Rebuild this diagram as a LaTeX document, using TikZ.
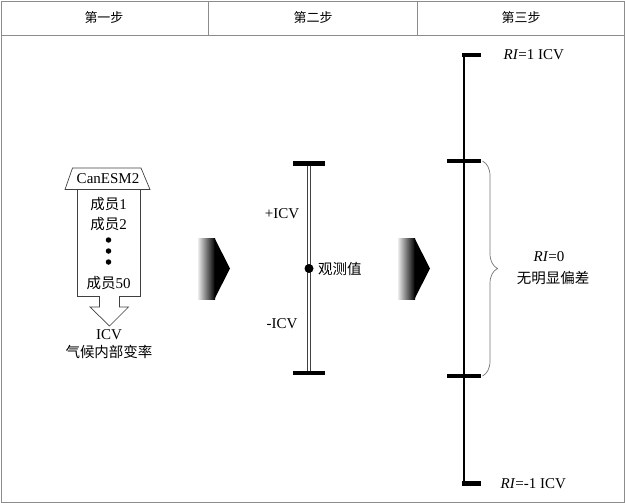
\documentclass[tikz,border=0pt]{standalone}
\usepackage{fontspec}
\setmainfont{Liberation Serif}
\newfontfamily\cjk{Noto Sans CJK SC}
\usetikzlibrary{decorations.pathreplacing}
\begin{document}
\begin{tikzpicture}[x=1pt,y=-1pt,
  frame/.style={draw=black!45, line width=0.8pt},
  lbl/.style={font=\fontsize{15}{17}\selectfont, inner sep=0pt, align=center},
  cjklbl/.style={lbl, font=\fontsize{14.5}{17}\selectfont\cjk},
  hdr/.style={font=\fontsize{13}{15}\selectfont\cjk, inner sep=0pt},
  bar/.style={line width=4.5pt},
  box/.style={draw=black!75, line width=0.7pt},
  dot/.style={fill=black, circle, inner sep=0pt, minimum size=5.5pt},
  chevshade/.style={left color=black!8, right color=black, shading angle=90},
]
\useasboundingbox (0,0) rectangle (625,503);
% frame
\draw[frame] (1,1) rectangle (624,502);
\draw[frame] (1,35) -- (624,35);
\draw[frame] (208,1) -- (208,35);
\draw[frame] (417,1) -- (417,35);
\node[hdr] (h1) at (104,17.5) {第一步};
\node[hdr] (h2) at (313,17.5) {第二步};
\node[hdr] (h3) at (521,17.5) {第三步};

% step 1
\draw[box] (65,189.5) -- (72.5,168) -- (141,168) -- (150,189.5) -- cycle;
\node[lbl] (cm) at (108,179) {CanESM2};
\draw[box] (77,189.5) rectangle (140,296);
\node[lbl] (m1) at (108.5,204) {{\cjk\fontsize{14.5}{17}\selectfont 成员}1};
\node[lbl] (m2) at (108.5,224) {{\cjk\fontsize{14.5}{17}\selectfont 成员}2};
\node[dot] (d1) at (108.5,240) {};
\node[dot] (d2) at (108.5,251) {};
\node[dot] (d3) at (108.5,262) {};
\node[lbl] (m50) at (108.5,283) {{\cjk\fontsize{14.5}{17}\selectfont 成员}50};
\draw[box, fill=white] (99.5,296) -- (99.5,307) -- (90,307) -- (109.5,326) -- (128.5,307) -- (119.5,307) -- (119.5,296);
\node[lbl] (icv) at (109,334.5) {ICV};
\node[cjklbl] (icvz) at (109,352) {气候内部变率};

% chevrons
\foreach \dx in {0,200}{
  \shade[chevshade] (198+\dx,238) rectangle (215+\dx,299);
  \fill[black] (214.5+\dx,238) -- (230+\dx,268.5) -- (214.5+\dx,299) -- cycle;
}

% step 2
\coordinate (s2t) at (309,163.5);
\coordinate (s2b) at (309,373);
\draw[draw=black!75, line width=0.8pt, double=white, double distance=2pt] (s2t) -- (s2b);
\draw[bar] (293,163.5) -- (325,163.5);
\draw[bar] (293,373) -- (325,373);
\node[dot, minimum size=9pt] (obs) at (309,268.5) {};
\node[cjklbl, anchor=west] (obsl) at (318,268.5) {观测值};
\node[lbl] (picv) at (282,213.5) {+ICV};
\node[lbl] (micv) at (282,323.5) {-ICV};

% step 3
\coordinate (s3t) at (464,55);
\coordinate (s3b) at (464,483.5);
\coordinate (u1) at (481,161);
\coordinate (u2) at (481,376);
\draw[line width=1.5pt] (s3t) -- (s3b);
\draw[bar] (462,55) -- (481,55);
\draw[bar] (447,161) -- (u1);
\draw[bar] (447,376) -- (u2);
\draw[bar] (462,483.5) -- (481,483.5);
\draw[draw=black!55, line width=0.7pt, decorate, decoration={brace, amplitude=15pt, aspect=0.5}] ([xshift=1.5pt]u1) -- ([xshift=1.5pt]u2);
\node[lbl, anchor=west] (ri1) at (503.5,55) {\textit{RI}=1 ICV};
\node[lbl, anchor=west] (rim1) at (500.5,483.5) {\textit{RI}=-1 ICV};
\node[lbl] (ri0) at (549,257) {\textit{RI}=0};
\node[cjklbl] (ri0t) at (553,278) {无明显偏差};
\end{tikzpicture}
\end{document}
